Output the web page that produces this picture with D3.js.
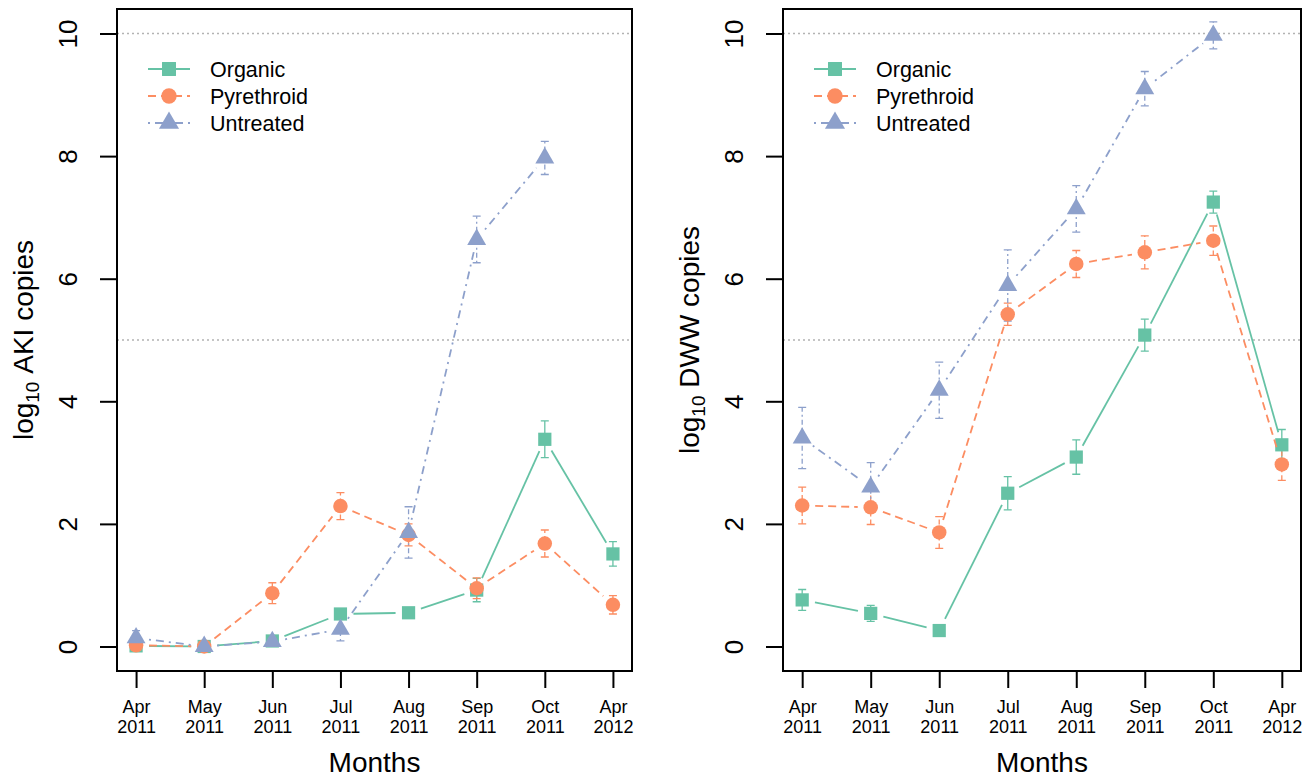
<!DOCTYPE html>
<html>
<head>
<meta charset="utf-8">
<script src="https://cdn.jsdelivr.net/npm/d3@7"></script>
<style>
  html, body { margin: 0; padding: 0; background: #fff; }
  svg { display: block; font-family: "Liberation Sans", Arial, sans-serif; }
</style>
</head>
<body>
<svg id="chart" width="1305" height="777"></svg>
<script>
// ---------------- data ----------------
const monthLabels = ["Apr 2011", "May 2011", "Jun 2011", "Jul 2011", "Aug 2011", "Sep 2011", "Oct 2011", "Apr 2012"];
const seriesNames = ["Organic", "Pyrethroid", "Untreated"];
const yTicks = [0, 2, 4, 6, 8, 10];
const refLines = [5, 10];

// AKI (left panel): means and standard errors
const akiOrganic      = [0.01, 0.00, 0.09, 0.53, 0.55, 0.92, 3.38, 1.51];
const akiOrganicSE    = [0.02, 0.00, 0.04, 0.06, 0.08, 0.19, 0.30, 0.20];
const akiPyrethroid   = [0.02, 0.00, 0.87, 2.29, 1.82, 0.95, 1.68, 0.68];
const akiPyrethroidSE = [0.03, 0.00, 0.17, 0.22, 0.18, 0.17, 0.22, 0.15];
const akiUntreated    = [0.14, 0.00, 0.08, 0.28, 1.86, 6.64, 7.97, null];
const akiUntreatedSE  = [0.12, 0.00, 0.03, 0.19, 0.42, 0.38, 0.27, null];

// DWW (right panel): means and standard errors
const dwwOrganic      = [0.76, 0.54, 0.26, 2.50, 3.09, 5.08, 7.25, 3.29];
const dwwOrganicSE    = [0.17, 0.13, 0.05, 0.27, 0.28, 0.26, 0.18, 0.25];
const dwwPyrethroid   = [2.30, 2.27, 1.86, 5.42, 6.24, 6.43, 6.62, 2.97];
const dwwPyrethroidSE = [0.30, 0.28, 0.26, 0.18, 0.22, 0.27, 0.24, 0.26];
const dwwUntreated    = [3.40, 2.60, 4.18, 5.89, 7.14, 9.10, 9.97, null];
const dwwUntreatedSE  = [0.50, 0.40, 0.46, 0.58, 0.38, 0.28, 0.22, null];

// ---------------- styles ----------------
const colors = ["#66C2A5", "#FC8D62", "#8DA0CB"];
const dashes = [null, "8,5", "2,5,8,5"];
const symbols = [d3.symbolSquare, d3.symbolCircle, d3.symbolTriangle];
const symSizes = [175, 165, 155];

const svg = d3.select("#chart");
const plotTop = 9, plotBottom = 671;

const panels = [
  { left: 117, right: 632, label: "AKI copies",
    means: [akiOrganic, akiPyrethroid, akiUntreated],
    ses: [akiOrganicSE, akiPyrethroidSE, akiUntreatedSE] },
  { left: 783, right: 1301, label: "DWW copies",
    means: [dwwOrganic, dwwPyrethroid, dwwUntreated],
    ses: [dwwOrganicSE, dwwPyrethroidSE, dwwUntreatedSE] }
];

panels.forEach(p => {
  const n = monthLabels.length;
  const x = d3.scaleLinear().domain([1 - 0.04 * (n - 1), n + 0.04 * (n - 1)]).range([p.left, p.right]);
  const y = d3.scaleLinear().domain([-0.4, 10.4]).range([plotBottom, plotTop]);
  const g = svg.append("g");

  // reference lines
  g.selectAll("line.ref").data(refLines).join("line")
    .attr("x1", p.left).attr("x2", p.right)
    .attr("y1", d => y(d)).attr("y2", d => y(d))
    .attr("stroke", "#b3b3b3").attr("stroke-width", 1.4)
    .attr("stroke-dasharray", "2,3");

  // y axis
  const yAxis = g.append("g").attr("transform", `translate(${p.left},0)`)
    .call(d3.axisLeft(y).tickValues(yTicks).tickSize(17).tickFormat(d3.format("d")));
  yAxis.select(".domain").remove();
  yAxis.selectAll(".tick line").attr("stroke", "#000").attr("stroke-width", 2);
  yAxis.selectAll(".tick text")
    .attr("transform", "rotate(-90)")
    .attr("x", 0).attr("y", -40).attr("dy", null)
    .attr("text-anchor", "middle")
    .attr("font-size", 26).attr("fill", "#000")
    .attr("font-family", "Liberation Sans, Arial, sans-serif");

  // x axis
  const xAxis = g.append("g").attr("transform", `translate(0,${plotBottom})`)
    .call(d3.axisBottom(x).tickValues(d3.range(1, n + 1)).tickSize(17).tickFormat(""));
  xAxis.select(".domain").remove();
  xAxis.selectAll(".tick line").attr("stroke", "#000").attr("stroke-width", 2);
  xAxis.selectAll(".tick text").remove();
  xAxis.selectAll(".tick").each(function(d) {
    const parts = monthLabels[d - 1].split(" ");
    const t = d3.select(this).append("text")
      .attr("text-anchor", "middle").attr("font-size", 18).attr("fill", "#000")
      .attr("font-family", "Liberation Sans, Arial, sans-serif");
    t.append("tspan").attr("x", 0).attr("y", 41.5).text(parts[0]);
    t.append("tspan").attr("x", 0).attr("y", 62).text(parts[1]);
  });

  // axis titles
  const cx = (p.left + p.right) / 2;
  g.append("text").attr("x", cx).attr("y", 772)
    .attr("text-anchor", "middle").attr("font-size", 28).text("Months");
  const yl = g.append("text")
    .attr("transform", `translate(${p.left - 84},${(plotTop + plotBottom) / 2}) rotate(-90)`)
    .attr("text-anchor", "middle").attr("font-size", 28);
  yl.append("tspan").text("log");
  yl.append("tspan").attr("font-size", 19).attr("dy", 6).text("10");
  yl.append("tspan").attr("dy", -6).text("\u00A0" + p.label);

  // error bars
  const cap = 4;
  p.means.forEach((arr, s) => {
    const se = p.ses[s];
    arr.forEach((v, i) => {
      if (v == null || !se[i]) return;
      const px = x(i + 1), y1 = y(v - se[i]), y2 = y(v + se[i]);
      g.append("path")
        .attr("d", d3.line()([[px, y1], [px, y2]]))
        .attr("stroke", colors[s]).attr("stroke-width", 1.3).attr("fill", "none")
        .attr("stroke-dasharray", s === 0 ? null : (s === 1 ? "5,3" : "2,3,5,3"));
      g.append("path")
        .attr("d", d3.line()([[px - cap, y1], [px + cap, y1]]) + d3.line()([[px - cap, y2], [px + cap, y2]]))
        .attr("stroke", colors[s]).attr("stroke-width", 1.3).attr("fill", "none");
    });
  });

  // lines (type "b" with gaps) and points
  const gap = 13;
  p.means.forEach((arr, s) => {
    for (let i = 0; i < arr.length - 1; i++) {
      if (arr[i] == null || arr[i + 1] == null) continue;
      const x0 = x(i + 1), y0 = y(arr[i]), x1 = x(i + 2), y1 = y(arr[i + 1]);
      const len = Math.hypot(x1 - x0, y1 - y0);
      if (len <= 2 * gap) continue;
      const ux = (x1 - x0) / len, uy = (y1 - y0) / len;
      g.append("path")
        .attr("d", d3.line()([[x0 + ux * gap, y0 + uy * gap], [x1 - ux * gap, y1 - uy * gap]]))
        .attr("stroke", colors[s]).attr("stroke-width", 1.8).attr("fill", "none")
        .attr("stroke-dasharray", dashes[s]);
    }
    arr.forEach((v, i) => {
      if (v == null) return;
      g.append("path")
        .attr("transform", `translate(${x(i + 1)},${y(v)})`)
        .attr("d", d3.symbol().type(symbols[s]).size(symSizes[s])())
        .attr("fill", colors[s]);
    });
  });

  // box
  g.append("rect").attr("x", p.left).attr("y", plotTop)
    .attr("width", p.right - p.left).attr("height", plotBottom - plotTop)
    .attr("fill", "none").attr("stroke", "#000").attr("stroke-width", 2);

  // legend
  const lx = p.left + 31, ly = 69, rowH = 27;
  seriesNames.forEach((name, s) => {
    const yy = ly + s * rowH;
    g.append("path")
      .attr("d", d3.line()([[lx, yy], [lx + 42, yy]]))
      .attr("stroke", colors[s]).attr("stroke-width", 1.8).attr("fill", "none")
      .attr("stroke-dasharray", dashes[s]);
    g.append("path")
      .attr("transform", `translate(${lx + 21},${yy})`)
      .attr("d", d3.symbol().type(symbols[s]).size(symSizes[s] + 20)())
      .attr("fill", colors[s]);
    g.append("text").attr("x", lx + 62).attr("y", yy + 8)
      .attr("font-size", 21.5).attr("fill", "#000").text(name);
  });
});
</script>
</body>
</html>
